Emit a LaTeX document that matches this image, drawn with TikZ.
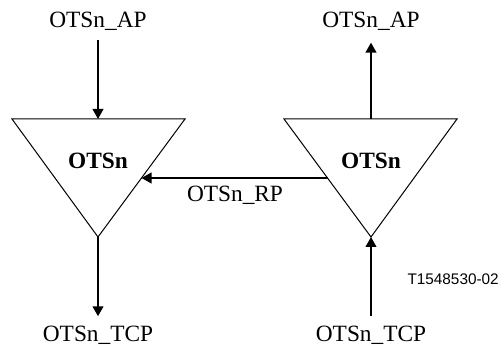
\documentclass[tikz,border=0pt]{standalone}
\usepackage{fontspec}
\setmainfont{Liberation Serif}
\newfontfamily\arialfont{Liberation Sans}
\usetikzlibrary{arrows.meta,calc}

\begin{document}
\begin{tikzpicture}[x=0.75pt,y=0.75pt,yscale=-1,xscale=1,
    port/.style={inner sep=1.5pt,font=\fontsize{17.5}{20}\selectfont},
    fname/.style={inner sep=1pt,font=\fontsize{17.5}{20}\selectfont\bfseries},
    flow/.style={line width=1.5pt,-{Triangle[length=7.5pt,width=8pt]}},
    tri/.style={line width=0.75pt,line join=miter}]
    \path[use as bounding box] (0,0) rectangle (500,352);
    %Shape: Triangle [left OTSn]
    \draw[tri] (12,119) coordinate (lTL) -- (185,119) coordinate (lTR) -- (98,237) coordinate (lBot) -- cycle;
    \coordinate (lTop) at (98,119);
    %Shape: Triangle [right OTSn]
    \draw[tri] (284,119) coordinate (rTL) -- (457,119) coordinate (rTR) -- (371,237) coordinate (rBot) -- cycle;
    \coordinate (rTop) at (371,119);
    % Text Node
    \node[fname,anchor=base] (lOTSn) at (98,169) {OTSn};
    \node[fname,anchor=base] (rOTSn) at (371,169) {OTSn};
    % Text Node
    \node[port,anchor=base] (lAP) at (98,28) {OTSn\_AP};
    \node[port,anchor=base] (rAP) at (371,28) {OTSn\_AP};
    \node[port,anchor=base] (lTCP) at (98,342) {OTSn\_TCP};
    \node[port,anchor=base] (rTCP) at (371,342) {OTSn\_TCP};
    \node[port,anchor=base] (RP) at (235,202) {OTSn\_RP};
    % Text Node
    \node[inner sep=0pt,anchor=base east,font=\arialfont\fontsize{11.5}{13}\selectfont] (fig) at (499,285) {T1548530-02};
    %Straight Lines
    \draw[flow,shorten <=5pt] (lAP.south) -- (lTop);
    \draw[flow,shorten >=7pt] (rTop) -- (rAP.south);
    \draw[flow,shorten >=6pt] (lBot) -- (lTCP.north);
    \draw[flow,shorten <=6pt] (rTCP.north) -- (rBot);
    %Straight Lines [OTSn_RP]
    \coordinate (rpFrom) at ($(rTL)!0.5!(rBot)$);
    \coordinate (rpTo) at ($(lTR)!0.5!(lBot)$);
    \draw[flow] (rpFrom) -- (rpTo);
\end{tikzpicture}
\end{document}
